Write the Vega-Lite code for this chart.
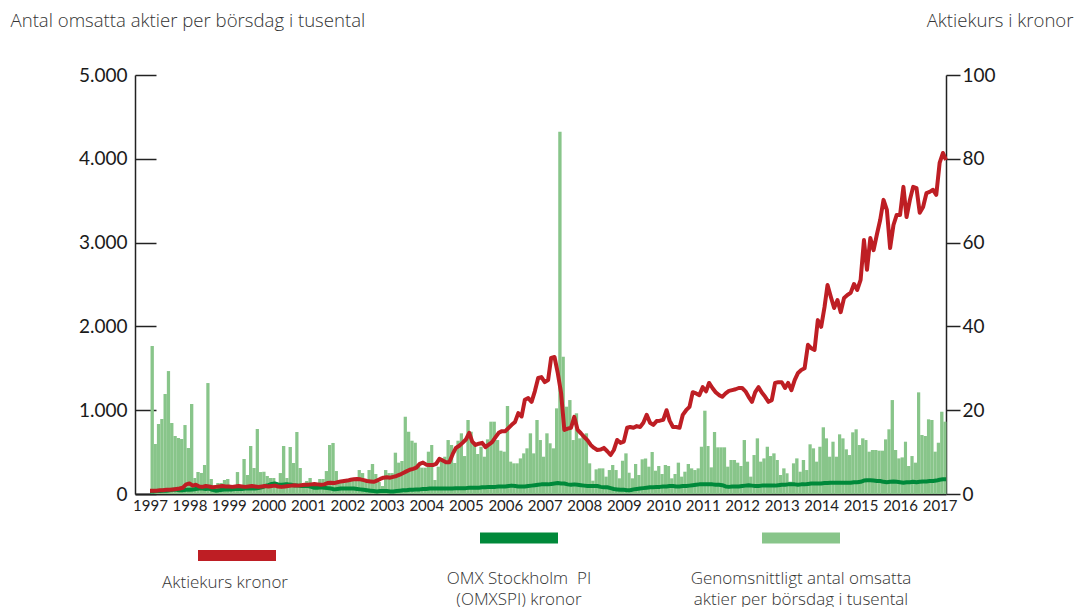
{
  "$schema": "https://vega.github.io/schema/vega-lite/v6.json",
  "width": 811,
  "height": 419,
  "autosize": {"type": "none"},
  "padding": {"left": 135, "top": 75, "right": 129, "bottom": 113},
  "background": "white",
  "config": {"view": {"stroke": null}, "font": "Lato"},
  "data": {"values": [
{"d":"1997-01","v":1766,"p":0.8,"o":0.6},{"d":"1997-02","v":597,"p":0.8,"o":0.6},{"d":"1997-03","v":835,"p":0.8,"o":0.7},{"d":"1997-04","v":895,"p":0.9,"o":0.7},{"d":"1997-05","v":1193,"p":0.9,"o":0.8},{"d":"1997-06","v":1467,"p":1.0,"o":0.8},{"d":"1997-07","v":847,"p":1.0,"o":0.9},{"d":"1997-08","v":692,"p":1.1,"o":1.0},{"d":"1997-09","v":668,"p":1.2,"o":1.0},{"d":"1997-10","v":656,"p":1.3,"o":0.9},{"d":"1997-11","v":823,"p":1.5,"o":0.9},{"d":"1997-12","v":549,"p":2.3,"o":1.0},
{"d":"1998-01","v":1074,"p":2.5,"o":1.0},{"d":"1998-02","v":191,"p":2.0,"o":1.1},{"d":"1998-03","v":262,"p":2.2,"o":1.2},{"d":"1998-04","v":251,"p":1.8,"o":1.3},{"d":"1998-05","v":346,"p":1.7,"o":1.3},{"d":"1998-06","v":1324,"p":1.9,"o":1.2},{"d":"1998-07","v":179,"p":1.8,"o":1.3},{"d":"1998-08","v":84,"p":1.6,"o":1.0},{"d":"1998-09","v":131,"p":1.7,"o":0.8},{"d":"1998-10","v":131,"p":1.8,"o":0.9},{"d":"1998-11","v":167,"p":1.9,"o":1.0},{"d":"1998-12","v":179,"p":1.8,"o":1.1},
{"d":"1999-01","v":84,"p":1.8,"o":1.1},{"d":"1999-02","v":84,"p":1.7,"o":1.1},{"d":"1999-03","v":262,"p":1.8,"o":1.2},{"d":"1999-04","v":95,"p":1.9,"o":1.2},{"d":"1999-05","v":418,"p":1.8,"o":1.2},{"d":"1999-06","v":227,"p":1.7,"o":1.3},{"d":"1999-07","v":573,"p":1.8,"o":1.3},{"d":"1999-08","v":310,"p":1.9,"o":1.3},{"d":"1999-09","v":776,"p":1.8,"o":1.3},{"d":"1999-10","v":262,"p":1.7,"o":1.4},{"d":"1999-11","v":266,"p":1.8,"o":1.6},{"d":"1999-12","v":215,"p":1.9,"o":1.9},
{"d":"2000-01","v":191,"p":1.8,"o":2.1},{"d":"2000-02","v":191,"p":1.9,"o":2.4},{"d":"2000-03","v":107,"p":2.0,"o":2.5},{"d":"2000-04","v":250,"p":1.8,"o":2.3},{"d":"2000-05","v":573,"p":1.7,"o":2.2},{"d":"2000-06","v":191,"p":1.8,"o":2.3},{"d":"2000-07","v":561,"p":1.9,"o":2.3},{"d":"2000-08","v":370,"p":2.0,"o":2.2},{"d":"2000-09","v":740,"p":2.1,"o":2.0},{"d":"2000-10","v":310,"p":2.0,"o":2.0},{"d":"2000-11","v":95,"p":2.1,"o":1.9},{"d":"2000-12","v":155,"p":2.2,"o":1.9},
{"d":"2001-01","v":191,"p":2.2,"o":1.9},{"d":"2001-02","v":107,"p":2.3,"o":1.7},{"d":"2001-03","v":107,"p":2.4,"o":1.5},{"d":"2001-04","v":179,"p":2.3,"o":1.5},{"d":"2001-05","v":179,"p":2.2,"o":1.6},{"d":"2001-06","v":274,"p":2.3,"o":1.5},{"d":"2001-07","v":585,"p":2.6,"o":1.4},{"d":"2001-08","v":609,"p":2.7,"o":1.3},{"d":"2001-09","v":274,"p":2.6,"o":1.1},{"d":"2001-10","v":143,"p":2.8,"o":1.2},{"d":"2001-11","v":143,"p":3.0,"o":1.3},{"d":"2001-12","v":160,"p":3.1,"o":1.3},
{"d":"2002-01","v":167,"p":3.2,"o":1.3},{"d":"2002-02","v":167,"p":3.4,"o":1.3},{"d":"2002-03","v":167,"p":3.5,"o":1.3},{"d":"2002-04","v":286,"p":3.6,"o":1.2},{"d":"2002-05","v":250,"p":3.5,"o":1.1},{"d":"2002-06","v":167,"p":3.3,"o":1.0},{"d":"2002-07","v":286,"p":3.1,"o":0.9},{"d":"2002-08","v":358,"p":3.0,"o":0.8},{"d":"2002-09","v":239,"p":2.9,"o":0.7},{"d":"2002-10","v":143,"p":3.2,"o":0.6},{"d":"2002-11","v":95,"p":3.6,"o":0.7},{"d":"2002-12","v":286,"p":3.9,"o":0.7},
{"d":"2003-01","v":250,"p":4.0,"o":0.7},{"d":"2003-02","v":250,"p":3.9,"o":0.6},{"d":"2003-03","v":493,"p":4.1,"o":0.6},{"d":"2003-04","v":374,"p":4.3,"o":0.7},{"d":"2003-05","v":394,"p":4.6,"o":0.8},{"d":"2003-06","v":922,"p":5.0,"o":0.9},{"d":"2003-07","v":743,"p":5.4,"o":0.9},{"d":"2003-08","v":636,"p":5.8,"o":1.0},{"d":"2003-09","v":612,"p":6.0,"o":1.0},{"d":"2003-10","v":326,"p":6.3,"o":1.1},{"d":"2003-11","v":314,"p":7.2,"o":1.1},{"d":"2003-12","v":314,"p":7.5,"o":1.2},
{"d":"2004-01","v":505,"p":7.0,"o":1.2},{"d":"2004-02","v":585,"p":6.9,"o":1.3},{"d":"2004-03","v":167,"p":6.9,"o":1.3},{"d":"2004-04","v":326,"p":7.2,"o":1.3},{"d":"2004-05","v":425,"p":8.4,"o":1.3},{"d":"2004-06","v":445,"p":8.0,"o":1.3},{"d":"2004-07","v":644,"p":7.6,"o":1.3},{"d":"2004-08","v":585,"p":7.6,"o":1.3},{"d":"2004-09","v":370,"p":9.5,"o":1.3},{"d":"2004-10","v":636,"p":11.0,"o":1.4},{"d":"2004-11","v":724,"p":11.5,"o":1.4},{"d":"2004-12","v":453,"p":12.2,"o":1.4},
{"d":"2005-01","v":883,"p":13.0,"o":1.4},{"d":"2005-02","v":743,"p":14.6,"o":1.5},{"d":"2005-03","v":585,"p":12.5,"o":1.5},{"d":"2005-04","v":477,"p":11.7,"o":1.5},{"d":"2005-05","v":564,"p":12.0,"o":1.5},{"d":"2005-06","v":445,"p":12.2,"o":1.6},{"d":"2005-07","v":652,"p":11.2,"o":1.6},{"d":"2005-08","v":863,"p":11.8,"o":1.7},{"d":"2005-09","v":863,"p":12.4,"o":1.7},{"d":"2005-10","v":644,"p":13.5,"o":1.7},{"d":"2005-11","v":517,"p":14.6,"o":1.8},{"d":"2005-12","v":505,"p":15.0,"o":1.8},
{"d":"2006-01","v":1050,"p":15.0,"o":1.8},{"d":"2006-02","v":386,"p":15.8,"o":1.9},{"d":"2006-03","v":366,"p":16.5,"o":2.0},{"d":"2006-04","v":366,"p":17.2,"o":1.9},{"d":"2006-05","v":425,"p":19.3,"o":1.8},{"d":"2006-06","v":485,"p":18.5,"o":1.8},{"d":"2006-07","v":545,"p":22.5,"o":1.8},{"d":"2006-08","v":724,"p":22.9,"o":1.9},{"d":"2006-09","v":485,"p":22.0,"o":2.0},{"d":"2006-10","v":883,"p":24.5,"o":2.1},{"d":"2006-11","v":644,"p":27.7,"o":2.2},{"d":"2006-12","v":445,"p":27.9,"o":2.3},
{"d":"2007-01","v":724,"p":26.7,"o":2.3},{"d":"2007-02","v":605,"p":27.2,"o":2.3},{"d":"2007-03","v":545,"p":32.5,"o":2.4},{"d":"2007-04","v":1022,"p":32.7,"o":2.5},{"d":"2007-05","v":4322,"p":28.9,"o":2.6},{"d":"2007-06","v":1638,"p":24.1,"o":2.5},{"d":"2007-07","v":1042,"p":15.3,"o":2.5},{"d":"2007-08","v":1121,"p":15.6,"o":2.3},{"d":"2007-09","v":644,"p":15.8,"o":2.2},{"d":"2007-10","v":963,"p":18.4,"o":2.3},{"d":"2007-11","v":664,"p":15.3,"o":2.2},{"d":"2007-12","v":704,"p":14.5,"o":2.1},
{"d":"2008-01","v":724,"p":13.6,"o":2.0},{"d":"2008-02","v":366,"p":12.8,"o":1.9},{"d":"2008-03","v":159,"p":11.7,"o":1.9},{"d":"2008-04","v":294,"p":11.0,"o":1.9},{"d":"2008-05","v":306,"p":10.5,"o":1.9},{"d":"2008-06","v":306,"p":10.6,"o":1.7},{"d":"2008-07","v":207,"p":11.0,"o":1.6},{"d":"2008-08","v":286,"p":10.2,"o":1.6},{"d":"2008-09","v":346,"p":9.3,"o":1.4},{"d":"2008-10","v":286,"p":10.5,"o":1.2},{"d":"2008-11","v":187,"p":12.9,"o":1.1},{"d":"2008-12","v":397,"p":12.2,"o":1.0},
{"d":"2009-01","v":485,"p":12.5,"o":1.0},{"d":"2009-02","v":254,"p":15.8,"o":0.9},{"d":"2009-03","v":187,"p":16.0,"o":0.9},{"d":"2009-04","v":358,"p":15.8,"o":1.1},{"d":"2009-05","v":227,"p":16.2,"o":1.2},{"d":"2009-06","v":414,"p":16.0,"o":1.3},{"d":"2009-07","v":425,"p":17.0,"o":1.4},{"d":"2009-08","v":326,"p":18.9,"o":1.5},{"d":"2009-09","v":501,"p":17.0,"o":1.6},{"d":"2009-10","v":278,"p":16.5,"o":1.6},{"d":"2009-11","v":334,"p":17.4,"o":1.7},{"d":"2009-12","v":239,"p":17.5,"o":1.7},
{"d":"2010-01","v":346,"p":17.7,"o":1.8},{"d":"2010-02","v":334,"p":20.0,"o":1.8},{"d":"2010-03","v":187,"p":17.5,"o":1.9},{"d":"2010-04","v":239,"p":16.0,"o":1.9},{"d":"2010-05","v":374,"p":16.0,"o":1.8},{"d":"2010-06","v":207,"p":15.8,"o":1.8},{"d":"2010-07","v":266,"p":18.9,"o":1.9},{"d":"2010-08","v":358,"p":20.0,"o":1.9},{"d":"2010-09","v":306,"p":20.8,"o":2.0},{"d":"2010-10","v":286,"p":24.3,"o":2.1},{"d":"2010-11","v":306,"p":24.0,"o":2.2},{"d":"2010-12","v":564,"p":23.6,"o":2.3},
{"d":"2011-01","v":994,"p":25.5,"o":2.3},{"d":"2011-02","v":573,"p":24.5,"o":2.3},{"d":"2011-03","v":318,"p":26.5,"o":2.3},{"d":"2011-04","v":740,"p":25.3,"o":2.3},{"d":"2011-05","v":557,"p":24.3,"o":2.2},{"d":"2011-06","v":557,"p":23.6,"o":2.2},{"d":"2011-07","v":557,"p":23.2,"o":2.1},{"d":"2011-08","v":326,"p":24.0,"o":1.8},{"d":"2011-09","v":406,"p":24.6,"o":1.7},{"d":"2011-10","v":406,"p":24.8,"o":1.8},{"d":"2011-11","v":374,"p":25.0,"o":1.8},{"d":"2011-12","v":334,"p":25.3,"o":1.8},
{"d":"2012-01","v":644,"p":25.3,"o":1.9},{"d":"2012-02","v":386,"p":24.5,"o":2.0},{"d":"2012-03","v":207,"p":23.2,"o":2.1},{"d":"2012-04","v":465,"p":22.0,"o":2.0},{"d":"2012-05","v":664,"p":24.3,"o":1.9},{"d":"2012-06","v":386,"p":25.5,"o":1.9},{"d":"2012-07","v":425,"p":24.2,"o":2.0},{"d":"2012-08","v":564,"p":23.2,"o":2.0},{"d":"2012-09","v":453,"p":22.0,"o":2.0},{"d":"2012-10","v":485,"p":22.4,"o":2.0},{"d":"2012-11","v":406,"p":26.5,"o":2.0},{"d":"2012-12","v":227,"p":26.7,"o":2.1},
{"d":"2013-01","v":306,"p":26.7,"o":2.2},{"d":"2013-02","v":247,"p":25.3,"o":2.2},{"d":"2013-03","v":147,"p":26.5,"o":2.3},{"d":"2013-04","v":366,"p":24.8,"o":2.3},{"d":"2013-05","v":425,"p":27.2,"o":2.3},{"d":"2013-06","v":266,"p":28.9,"o":2.2},{"d":"2013-07","v":406,"p":29.6,"o":2.3},{"d":"2013-08","v":286,"p":30.0,"o":2.3},{"d":"2013-09","v":593,"p":35.6,"o":2.4},{"d":"2013-10","v":545,"p":34.8,"o":2.5},{"d":"2013-11","v":386,"p":34.4,"o":2.5},{"d":"2013-12","v":564,"p":41.5,"o":2.5},
{"d":"2014-01","v":796,"p":39.9,"o":2.5},{"d":"2014-02","v":664,"p":44.6,"o":2.6},{"d":"2014-03","v":445,"p":49.9,"o":2.6},{"d":"2014-04","v":624,"p":47.0,"o":2.7},{"d":"2014-05","v":445,"p":44.4,"o":2.7},{"d":"2014-06","v":712,"p":46.3,"o":2.7},{"d":"2014-07","v":664,"p":43.4,"o":2.7},{"d":"2014-08","v":533,"p":46.8,"o":2.7},{"d":"2014-09","v":465,"p":47.5,"o":2.7},{"d":"2014-10","v":736,"p":48.0,"o":2.7},{"d":"2014-11","v":772,"p":50.1,"o":2.8},{"d":"2014-12","v":585,"p":48.7,"o":2.8},
{"d":"2015-01","v":664,"p":51.1,"o":2.9},{"d":"2015-02","v":644,"p":60.6,"o":3.2},{"d":"2015-03","v":505,"p":53.5,"o":3.3},{"d":"2015-04","v":525,"p":61.1,"o":3.3},{"d":"2015-05","v":525,"p":58.2,"o":3.2},{"d":"2015-06","v":517,"p":62.0,"o":3.1},{"d":"2015-07","v":517,"p":65.4,"o":3.1},{"d":"2015-08","v":652,"p":70.2,"o":2.9},{"d":"2015-09","v":772,"p":67.8,"o":2.8},{"d":"2015-10","v":1121,"p":58.7,"o":2.9},{"d":"2015-11","v":525,"p":64.2,"o":3.0},{"d":"2015-12","v":425,"p":66.6,"o":2.9},
{"d":"2016-01","v":437,"p":66.6,"o":2.8},{"d":"2016-02","v":624,"p":73.3,"o":2.7},{"d":"2016-03","v":334,"p":66.1,"o":2.8},{"d":"2016-04","v":453,"p":70.2,"o":2.8},{"d":"2016-05","v":374,"p":73.3,"o":2.9},{"d":"2016-06","v":1213,"p":73.0,"o":2.8},{"d":"2016-07","v":704,"p":67.1,"o":2.9},{"d":"2016-08","v":692,"p":68.5,"o":3.0},{"d":"2016-09","v":891,"p":71.8,"o":3.0},{"d":"2016-10","v":883,"p":72.1,"o":3.1},{"d":"2016-11","v":505,"p":72.6,"o":3.1},{"d":"2016-12","v":612,"p":71.4,"o":3.2},
{"d":"2017-01","v":982,"p":79.0,"o":3.4},{"d":"2017-02","v":863,"p":81.4,"o":3.5},{"d":"2017-03","v":null,"p":79.7,"o":3.5}
  ]},
  "encoding": {
    "x": {
      "field": "d", "type": "temporal", "timeUnit": "utcyearmonth",
      "scale": {"domain": [{"year": 1996, "month": 8, "date": 15, "utc": true}, {"year": 2017, "month": 3, "date": 1, "utc": true}]},
      "axis": {
        "title": null, "format": "%Y", "tickCount": {"interval": "year", "step": 1},
        "ticks": false, "grid": false, "labelOverlap": false,
        "domainColor": "#222222", "domainWidth": 2,
        "labelFont": "Lato", "labelFontSize": 15, "labelColor": "#222222", "labelPadding": 4
      }
    }
  },
  "layer": [
    {
      "mark": {"type": "bar", "binSpacing": 0},
      "encoding": {
        "y": {
          "field": "v", "type": "quantitative",
          "scale": {"domain": [0, 5000]},
          "axis": {
            "orient": "left", "values": [0, 1000, 2000, 3000, 4000, 5000], "grid": false,
            "labelExpr": "replace(format(datum.value, ','), ',', '.')",
            "domainColor": "#222222", "domainWidth": 1.5,
            "tickColor": "#222222", "tickWidth": 1.5, "tickSize": -21,
            "labelFont": "Lato", "labelFontSize": 19, "labelColor": "#1a1a1a", "labelPadding": 29,
            "title": "Antal omsatta aktier per börsdag i tusental",
            "titleAngle": 0, "titleAlign": "left", "titleBaseline": "alphabetic",
            "titleX": -125, "titleY": -49, "titleFont": "Open Sans", "titleFontSize": 18.6,
            "titleFontWeight": 300, "titleColor": "#333333"
          }
        },
        "color": {
          "datum": "vol", "type": "nominal",
          "scale": {"domain": ["kurs", "omx", "vol"], "range": ["#be1e24", "#00893a", "#88c58a"]},
          "legend": {
            "orient": "none", "legendX": 63, "legendY": 458, "direction": "horizontal",
            "columns": 3, "padding": 0, "columnPadding": 60, "gridAlign": "all", "title": null,
            "symbolType": "M-1,-0.14H1V0.14H-1Z", "symbolSize": 6084, "symbolStrokeWidth": 0, "symbolOpacity": 1,
            "labelFont": "Open Sans", "labelFontSize": 17, "labelFontWeight": 300, "labelColor": "#333333", "labelLimit": 400,
            "labelBaseline": "top",
            "labelExpr": "datum.value == 'kurs' ? 'Aktiekurs kronor' : datum.value == 'omx' ? ['OMX Stockholm\u00a0 PI', '(OMXSPI) kronor'] : ['Genomsnittligt antal omsatta', 'aktier per börsdag i tusental']",
            "encode": {
              "symbols": {"update": {"x": {"value": 39}, "y": {"value": 5}, "fill": {"scale": "color", "field": "value"}}},
              "labels": {"update": {"x": {"signal": "datum.value == 'kurs' ? 27 : 39"}, "y": {"signal": "datum.value == 'kurs' ? 24 : 38"}, "align": {"value": "center"}, "baseline": {"value": "top"}, "lineHeight": {"value": 21}}}
            }
          }
        }
      }
    },
    {
      "layer": [
        {
          "mark": {"type": "line", "strokeWidth": 4, "strokeJoin": "round"},
          "encoding": {
            "y": {
              "field": "o", "type": "quantitative", "scale": {"domain": [0, 100]},
              "axis": {
                "orient": "right", "values": [0, 20, 40, 60, 80, 100], "grid": false,
                "domainColor": "#222222", "domainWidth": 1.5,
                "tickColor": "#222222", "tickWidth": 1.5, "tickSize": 14,
                "labelFont": "Lato", "labelFontSize": 19, "labelColor": "#1a1a1a", "labelPadding": 2,
                "title": "Aktiekurs i kronor",
                "titleAngle": 0, "titleAlign": "right", "titleBaseline": "alphabetic",
                "titleX": 127, "titleY": -49, "titleFont": "Open Sans", "titleFontSize": 18.6,
                "titleFontWeight": 300, "titleColor": "#333333"
              }
            },
            "color": {"datum": "omx", "type": "nominal"}
          }
        },
        {
          "mark": {"type": "line", "strokeWidth": 4, "strokeJoin": "round"},
          "encoding": {
            "y": {
              "field": "p", "type": "quantitative", "scale": {"domain": [0, 100]},
              "axis": {
                "orient": "right", "values": [0, 20, 40, 60, 80, 100], "grid": false,
                "domainColor": "#222222", "domainWidth": 1.5,
                "tickColor": "#222222", "tickWidth": 1.5, "tickSize": 14,
                "labelFont": "Lato", "labelFontSize": 19, "labelColor": "#1a1a1a", "labelPadding": 2,
                "title": "Aktiekurs i kronor",
                "titleAngle": 0, "titleAlign": "right", "titleBaseline": "alphabetic",
                "titleX": 127, "titleY": -49, "titleFont": "Open Sans", "titleFontSize": 18.6,
                "titleFontWeight": 300, "titleColor": "#333333"
              }
            },
            "color": {"datum": "kurs", "type": "nominal"}
          }
        }
      ]
    }
  ],
  "resolve": {"scale": {"y": "independent"}}
}
